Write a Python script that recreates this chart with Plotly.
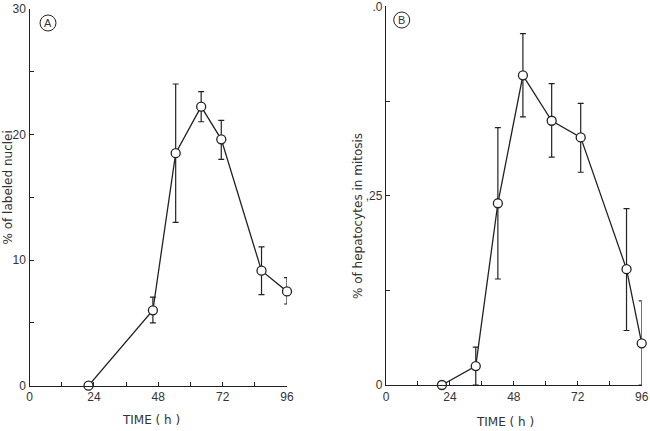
import plotly.graph_objects as go

# Panel A: % of labeled nuclei
time_a = [22, 46, 54.5, 64, 71.5, 86.5, 96]
lab_a = [0.0, 6.0, 18.5, 22.2, 19.6, 9.15, 7.5]
lab_a_plus = [0, 1.05, 5.5, 1.2, 1.5, 1.9, 1.1]
lab_a_minus = [0, 1.0, 5.5, 1.2, 1.6, 1.9, 1.0]

# Panel B: % of hepatocytes in mitosis
time_b = [21, 33.7, 42, 51.4, 62.2, 73.1, 90.3, 96]
mit_b = [0.0, 0.025, 0.240, 0.409, 0.349, 0.327, 0.153, 0.055]
mit_b_plus = [0, 0.025, 0.100, 0.055, 0.049, 0.045, 0.080, 0.056]
mit_b_minus = [0, 0.025, 0.100, 0.055, 0.048, 0.046, 0.081, 0.055]

x_ticks = [0, 12, 24, 36, 48, 60, 72, 84, 96]
x_ticktext = ["0", "", "24", "", "48", "", "72", "", "96"]
ya_ticks = [0, 5, 10, 15, 20, 25, 30]
ya_ticktext = ["0", "", "10", "", "20", "", "30"]
yb_ticks = [0, 0.125, 0.25, 0.375, 0.5]
yb_ticktext = ["0", "", ",25", "", ".0"]

ink = "#222222"
txt = "#333333"
font = dict(family="Liberation Sans, Arial, sans-serif", size=12, color=txt)
title_font = dict(family="DejaVu Sans, sans-serif", size=12, color=txt)

fig = go.Figure()

def add_panel(x, y, ep, em, xa, ya):
    fig.add_trace(go.Scatter(
        x=x, y=y, mode="lines+markers", xaxis=xa, yaxis=ya,
        line=dict(color=ink, width=1.3),
        marker=dict(symbol="circle", size=9, color="white",
                    line=dict(color=ink, width=1.3)),
        error_y=dict(type="data", symmetric=False, array=ep, arrayminus=em,
                     color=ink, thickness=1.2, width=3),
        showlegend=False, cliponaxis=False,
    ))

add_panel(time_a, lab_a, lab_a_plus, lab_a_minus, "x", "y")
add_panel(time_b, mit_b, mit_b_plus, mit_b_minus, "x2", "y2")

axis_common = dict(showgrid=False, zeroline=False, showline=True,
                   linecolor=ink, linewidth=1.3, ticks="inside",
                   ticklen=4, tickcolor=ink, tickwidth=1.2,
                   tickfont=font, tickmode="array", automargin=False,
                   ticklabeloverflow="allow")

fig.update_layout(
    width=650, height=431,
    margin=dict(l=0, r=0, t=0, b=0, autoexpand=False),
    paper_bgcolor="white", plot_bgcolor="white",
    font=font,
    xaxis=dict(domain=[29.5/650, 287/650], range=[0, 96],
               tickvals=x_ticks, ticktext=x_ticktext, anchor="y", **axis_common),
    yaxis=dict(domain=[45.3/431, 422.4/431], range=[0, 30],
               tickvals=ya_ticks, ticktext=ya_ticktext, anchor="x", **axis_common),
    xaxis2=dict(domain=[386/650, 641.7/650], range=[0, 96],
                tickvals=x_ticks, ticktext=x_ticktext, anchor="y2", **axis_common),
    yaxis2=dict(domain=[46/431, 424.6/431], range=[0, 0.5],
                tickvals=yb_ticks, ticktext=yb_ticktext, anchor="x2", **axis_common),
)

ann = []
ann.append(dict(text="% of labeled nuclei", x=7.5/650, y=1-188/431, xref="paper", yref="paper",
                textangle=-90, showarrow=False, font=title_font, xanchor="center", yanchor="middle"))
ann.append(dict(text="% of hepatocytes in mitosis", x=358/650, y=1-216/431, xref="paper", yref="paper",
                textangle=-90, showarrow=False, font=title_font, xanchor="center", yanchor="middle"))
ann.append(dict(text="TIME ( h )", x=151/650, y=1-420/431, xref="paper", yref="paper",
                showarrow=False, font=title_font, xanchor="center", yanchor="middle"))
ann.append(dict(text="TIME ( h )", x=505/650, y=1-421.5/431, xref="paper", yref="paper",
                showarrow=False, font=title_font, xanchor="center", yanchor="middle"))
ann.append(dict(text="A", x=48/650, y=1-23/431, xref="paper", yref="paper",
                showarrow=False, font=dict(family="Liberation Sans, Arial", size=11, color=txt),
                xanchor="center", yanchor="middle"))
ann.append(dict(text="B", x=401.7/650, y=1-20/431, xref="paper", yref="paper",
                showarrow=False, font=dict(family="Liberation Sans, Arial", size=11, color=txt),
                xanchor="center", yanchor="middle"))
fig.update_layout(annotations=ann)

fig.add_shape(type="circle", xref="paper", yref="paper",
              x0=40/650, x1=56/650, y0=1-31/431, y1=1-15/431,
              line=dict(color=ink, width=1))
fig.add_shape(type="circle", xref="paper", yref="paper",
              x0=393.7/650, x1=409.7/650, y0=1-28/431, y1=1-12/431,
              line=dict(color=ink, width=1))

fig.write_html("out.html")
